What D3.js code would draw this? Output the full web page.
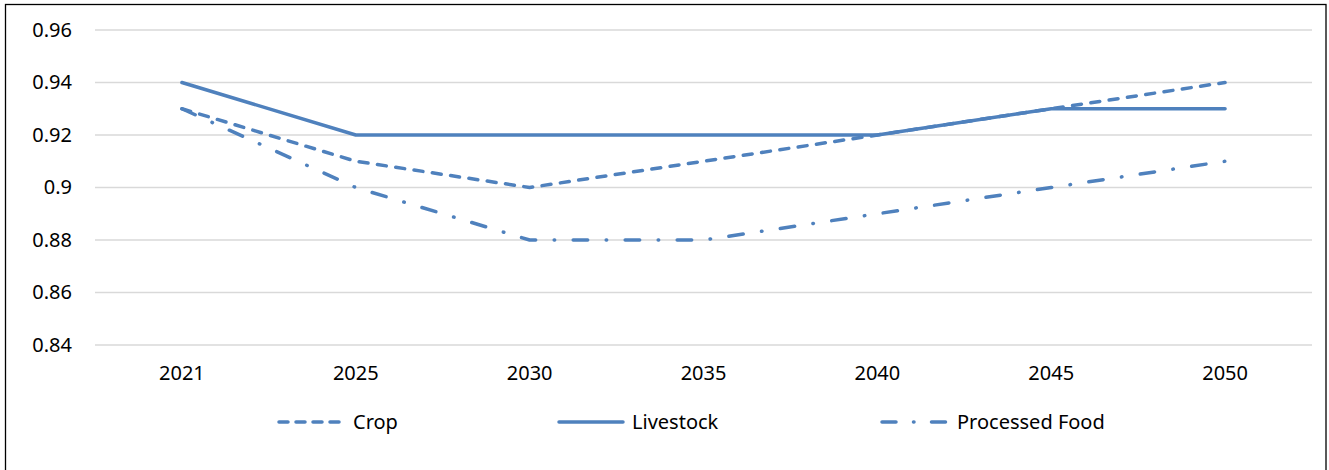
<!DOCTYPE html>
<html>
<head>
<meta charset="utf-8">
<script src="https://cdn.jsdelivr.net/npm/d3@7/dist/d3.min.js"></script>
<style>
  html, body { margin: 0; padding: 0; background: #fff; }
  svg { display: block; }
  text { font-family: "Noto Sans", "Open Sans", sans-serif; fill: #000; }
</style>
</head>
<body>
<svg id="chart" width="1329" height="470"></svg>
<script>
const years = ["2021", "2025", "2030", "2035", "2040", "2045", "2050"];
const crop = [0.93, 0.91, 0.90, 0.91, 0.92, 0.93, 0.94];
const livestock = [0.94, 0.92, 0.92, 0.92, 0.92, 0.93, 0.93];
const processedFood = [0.93, 0.90, 0.88, 0.88, 0.89, 0.90, 0.91];
const yTicks = [0.84, 0.86, 0.88, 0.90, 0.92, 0.94, 0.96];
const seriesNames = ["Crop", "Livestock", "Processed Food"];

const series = [
  { name: seriesNames[0], values: crop, dash: "9,9.5" },
  { name: seriesNames[1], values: livestock, dash: null },
  { name: seriesNames[2], values: processedFood, dash: "14.5,18.5,0.5,18.5" }
];

const color = "#4F81BD";
const svg = d3.select("#chart");

// outer border
svg.append("rect")
  .attr("x", 5.5).attr("y", 4.5)
  .attr("width", 1320.5).attr("height", 470)
  .attr("fill", "none").attr("stroke", "#000").attr("stroke-width", 1.3);

const plotLeft = 95, plotRight = 1312, plotTop = 30, plotBottom = 345;

const x = d3.scaleBand().domain(years).range([plotLeft, plotRight]).padding(0);
const y = d3.scaleLinear().domain([0.84, 0.96]).range([plotBottom, plotTop]);

// gridlines
svg.append("g")
  .selectAll("line")
  .data(yTicks)
  .join("line")
  .attr("x1", plotLeft).attr("x2", plotRight)
  .attr("y1", d => y(d)).attr("y2", d => y(d))
  .attr("stroke", "#D9D9D9").attr("stroke-width", 1.3);

// y axis labels
const yAxis = d3.axisLeft(y).tickValues(yTicks).tickSize(0).tickPadding(0)
  .tickFormat(d => String(+d.toFixed(2)));
const yg = svg.append("g").attr("transform", `translate(72,0)`).call(yAxis);
yg.select(".domain").remove();
yg.selectAll("text").attr("font-size", 20).attr("font-family", "Noto Sans").attr("fill", "#000");

// x axis labels
const xAxis = d3.axisBottom(x).tickSize(0).tickPadding(0);
const xg = svg.append("g").attr("transform", `translate(0,366)`).call(xAxis);
xg.select(".domain").remove();
xg.selectAll("text").attr("font-size", 20).attr("font-family", "Noto Sans").attr("fill", "#000");

// lines
const line = d3.line()
  .x((d, i) => x(years[i]) + x.bandwidth() / 2)
  .y(d => y(d));

svg.append("g")
  .selectAll("path")
  .data(series)
  .join("path")
  .attr("d", d => line(d.values))
  .attr("fill", "none")
  .attr("stroke", color)
  .attr("stroke-width", 3.5)
  .attr("stroke-linecap", "round")
  .attr("stroke-linejoin", "round")
  .attr("stroke-dasharray", d => d.dash);

// legend
const legendX = [277, 557, 880];
const legendY = 422;
const lg = svg.append("g")
  .selectAll("g")
  .data(series)
  .join("g")
  .attr("transform", (d, i) => `translate(${legendX[i]},${legendY})`);

const legendDash = ["9,8", null, "14,17.5,0.5,17.5"];
lg.append("line")
  .attr("x1", 2).attr("x2", 66)
  .attr("y1", 0).attr("y2", 0)
  .attr("stroke", color)
  .attr("stroke-width", 3.5)
  .attr("stroke-linecap", "round")
  .attr("stroke-dasharray", (d, i) => legendDash[i]);

lg.append("text")
  .attr("x", (d, i) => i === 0 ? 76 : (i === 1 ? 75 : 77))
  .attr("y", 0)
  .attr("dy", "0.35em")
  .attr("font-size", 20)
  .text(d => d.name);
</script>
</body>
</html>
